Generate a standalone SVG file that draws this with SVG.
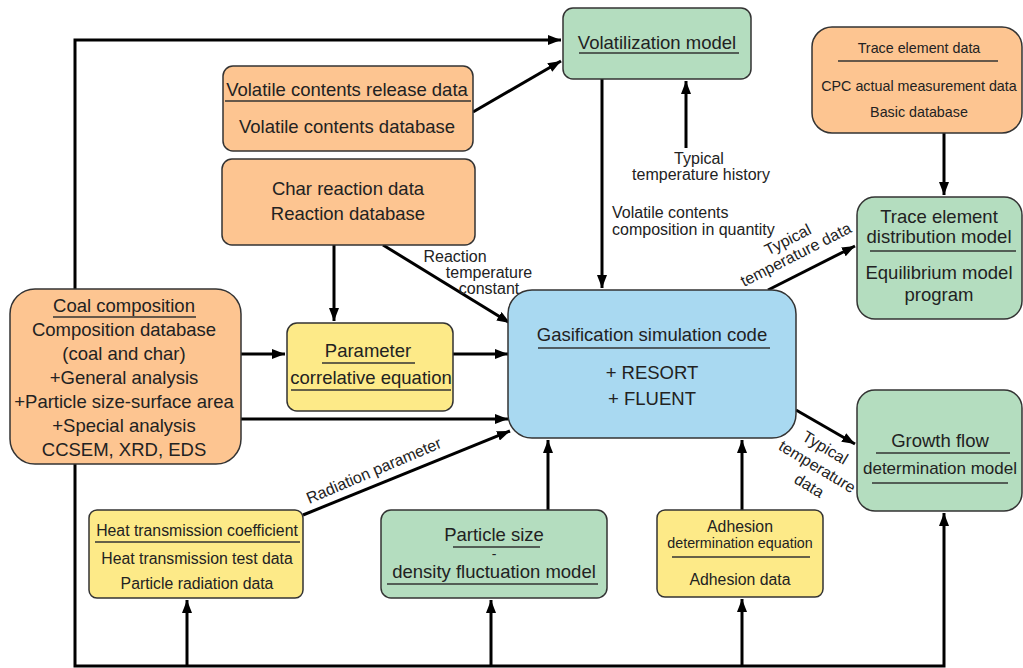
<svg xmlns="http://www.w3.org/2000/svg" width="1023" height="668" viewBox="0 0 1023 668">
<style>
text{font-family:"Liberation Sans",Arial,sans-serif;fill:#222;text-anchor:middle}
.t18{font-size:18.5px}
.t17{font-size:17px}
.t16{font-size:15.8px}
.t14{font-size:14.3px}
.lab{font-size:16px}
.box{stroke:#333;stroke-width:1.5}
.or{fill:#FDC591}
.gr{fill:#B4DDBF}
.ye{fill:#FDEA88}
.bl{fill:#A9D9F1}
.ul{stroke:#333;stroke-width:1.3}
.c{fill:none;stroke:#000;stroke-width:3}
</style>
<defs>
<marker id="ah" markerUnits="userSpaceOnUse" markerWidth="14" markerHeight="10" refX="13" refY="5" orient="auto">
<path d="M0,0 L13,5 L0,10 z" fill="#000"/>
</marker>
</defs>
<rect width="1023" height="668" fill="#fff"/>

<g id="connectors">
<path class="c" d="M75,289 V40 H561" marker-end="url(#ah)"/>
<path class="c" d="M473,112 L561,61" marker-end="url(#ah)"/>
<path class="c" d="M602,79 V288" marker-end="url(#ah)"/>
<path class="c" d="M686,148 V81" marker-end="url(#ah)"/>
<path class="c" d="M334,245 V321" marker-end="url(#ah)"/>
<path class="c" d="M383,245 L510,323" marker-end="url(#ah)"/>
<path class="c" d="M241,354 H285" marker-end="url(#ah)"/>
<path class="c" d="M453,354 H508" marker-end="url(#ah)"/>
<path class="c" d="M241,419 H508" marker-end="url(#ah)"/>
<path class="c" d="M303,515 L510,431" marker-end="url(#ah)"/>
<path class="c" d="M548,510 V440" marker-end="url(#ah)"/>
<path class="c" d="M742,510 V440" marker-end="url(#ah)"/>
<path class="c" d="M768,290 L855,246" marker-end="url(#ah)"/>
<path class="c" d="M796,410 L855,444" marker-end="url(#ah)"/>
<path class="c" d="M944,133 V195" marker-end="url(#ah)"/>
<path class="c" d="M75,464 V666 H944 V513" marker-end="url(#ah)"/>
<path class="c" d="M187,666 V600" marker-end="url(#ah)"/>
<path class="c" d="M491,666 V600" marker-end="url(#ah)"/>
<path class="c" d="M742,666 V599" marker-end="url(#ah)"/>
</g>

<g id="labels">
<text class="lab" x="455" y="262">Reaction</text>
<text class="lab" x="489" y="278">temperature</text>
<text class="lab" x="489" y="294">constant</text>
<text class="lab" x="699" y="164">Typical</text>
<text class="lab" x="701" y="180">temperature history</text>
<text class="lab" x="612" y="218" style="text-anchor:start">Volatile contents</text>
<text class="lab" x="612" y="235" style="text-anchor:start">composition in quantity</text>
<g transform="translate(788,240) rotate(-27)"><text class="lab" x="0" y="5">Typical</text></g>
<g transform="translate(796,255) rotate(-27)"><text class="lab" x="0" y="5">temperature data</text></g>
<g transform="translate(825,448) rotate(31)"><text class="lab" x="0" y="5">Typical</text></g>
<g transform="translate(817,467) rotate(31)"><text class="lab" x="0" y="5">temperature</text></g>
<g transform="translate(809,486) rotate(31)"><text class="lab" x="0" y="5">data</text></g>
<g transform="translate(374,471) rotate(-23)"><text class="lab" x="0" y="5">Radiation parameter</text></g>
</g>

<g id="volatile-release">
<rect class="box or" x="223" y="66" width="250" height="85" rx="10"/>
<text class="t18" x="347" y="96">Volatile contents release data</text>
<line class="ul" x1="225" y1="101" x2="471" y2="101"/>
<text class="t18" x="347" y="133">Volatile contents database</text>
</g>

<g id="char-reaction">
<rect class="box or" x="222" y="159" width="253" height="86" rx="10"/>
<text class="t18" x="348" y="195">Char reaction data</text>
<text class="t18" x="348" y="220">Reaction database</text>
</g>

<g id="volatilization-model">
<rect class="box gr" x="563" y="8" width="188" height="71" rx="10"/>
<text class="t18" x="657" y="49">Volatilization model</text>
<line class="ul" x1="579" y1="53" x2="739" y2="53"/>
</g>

<g id="trace-element-data">
<rect class="box or" x="812" y="27" width="210" height="106" rx="20"/>
<text class="t14" x="919" y="53">Trace element data</text>
<line class="ul" x1="838" y1="61" x2="998" y2="61"/>
<text class="t14" x="919" y="91">CPC actual measurement data</text>
<text class="t14" x="919" y="117">Basic database</text>
</g>

<g id="trace-element-distribution">
<rect class="box gr" x="857" y="197" width="165" height="122" rx="18"/>
<text class="t18" x="939" y="223">Trace element</text>
<text class="t18" x="939" y="243">distribution model</text>
<line class="ul" x1="870" y1="251" x2="1016" y2="251"/>
<text class="t18" x="939" y="279">Equilibrium model</text>
<text class="t18" x="939" y="301">program</text>
</g>

<g id="coal-composition">
<rect class="box or" x="10" y="289" width="231" height="175" rx="25"/>
<text class="t18" x="124" y="312">Coal composition</text>
<line class="ul" x1="53" y1="317" x2="196" y2="317"/>
<text class="t18" x="124" y="336">Composition database</text>
<text class="t18" x="124" y="360">(coal and char)</text>
<text class="t18" x="124" y="384">+General analysis</text>
<text class="t18" x="124" y="408">+Particle size-surface area</text>
<text class="t18" x="124" y="432">+Special analysis</text>
<text class="t18" x="124" y="456">CCSEM, XRD, EDS</text>
</g>

<g id="parameter">
<rect class="box ye" x="287" y="323" width="166" height="88" rx="10"/>
<text class="t18" x="368" y="357">Parameter</text>
<line class="ul" x1="322" y1="363" x2="415" y2="363"/>
<text class="t18" x="371" y="384">correlative equation</text>
<line class="ul" x1="291" y1="390" x2="451" y2="390"/>
</g>

<g id="gasification">
<rect class="box bl" x="508" y="290" width="288" height="148" rx="24"/>
<text class="t18" x="652" y="341">Gasification simulation code</text>
<line class="ul" x1="538" y1="348" x2="770" y2="348"/>
<text class="t18" x="652" y="379">+ RESORT</text>
<text class="t18" x="652" y="405">+ FLUENT</text>
</g>

<g id="growth-flow">
<rect class="box gr" x="857" y="390" width="165" height="121" rx="18"/>
<text class="t18" x="940" y="447">Growth flow</text>
<line class="ul" x1="876" y1="453" x2="1010" y2="453"/>
<text class="t17" x="940" y="474">determination model</text>
<line class="ul" x1="872" y1="483" x2="1008" y2="483"/>
</g>

<g id="heat-transmission">
<rect class="box ye" x="89" y="510" width="214" height="88" rx="8"/>
<text class="t16" x="197" y="536">Heat transmission coefficient</text>
<line class="ul" x1="95" y1="542" x2="300" y2="542"/>
<text class="t16" x="197" y="564">Heat transmission test data</text>
<text class="t16" x="197" y="589">Particle radiation data</text>
</g>

<g id="particle-size">
<rect class="box gr" x="381" y="510" width="226" height="88" rx="10"/>
<text class="t18" x="494" y="541">Particle size</text>
<line class="ul" x1="453" y1="547" x2="540" y2="547"/>
<text style="font-size:14px" x="494" y="559">-</text>
<text class="t18" x="494" y="578">density fluctuation model</text>
<line class="ul" x1="387" y1="584" x2="598" y2="584"/>
</g>

<g id="adhesion">
<rect class="box ye" x="657" y="510" width="166" height="87" rx="8"/>
<text class="t16" x="740" y="532">Adhesion</text>
<text class="t14" x="740" y="548">determination equation</text>
<line class="ul" x1="672" y1="557" x2="810" y2="557"/>
<text class="t16" x="740" y="585">Adhesion data</text>
</g>
</svg>
